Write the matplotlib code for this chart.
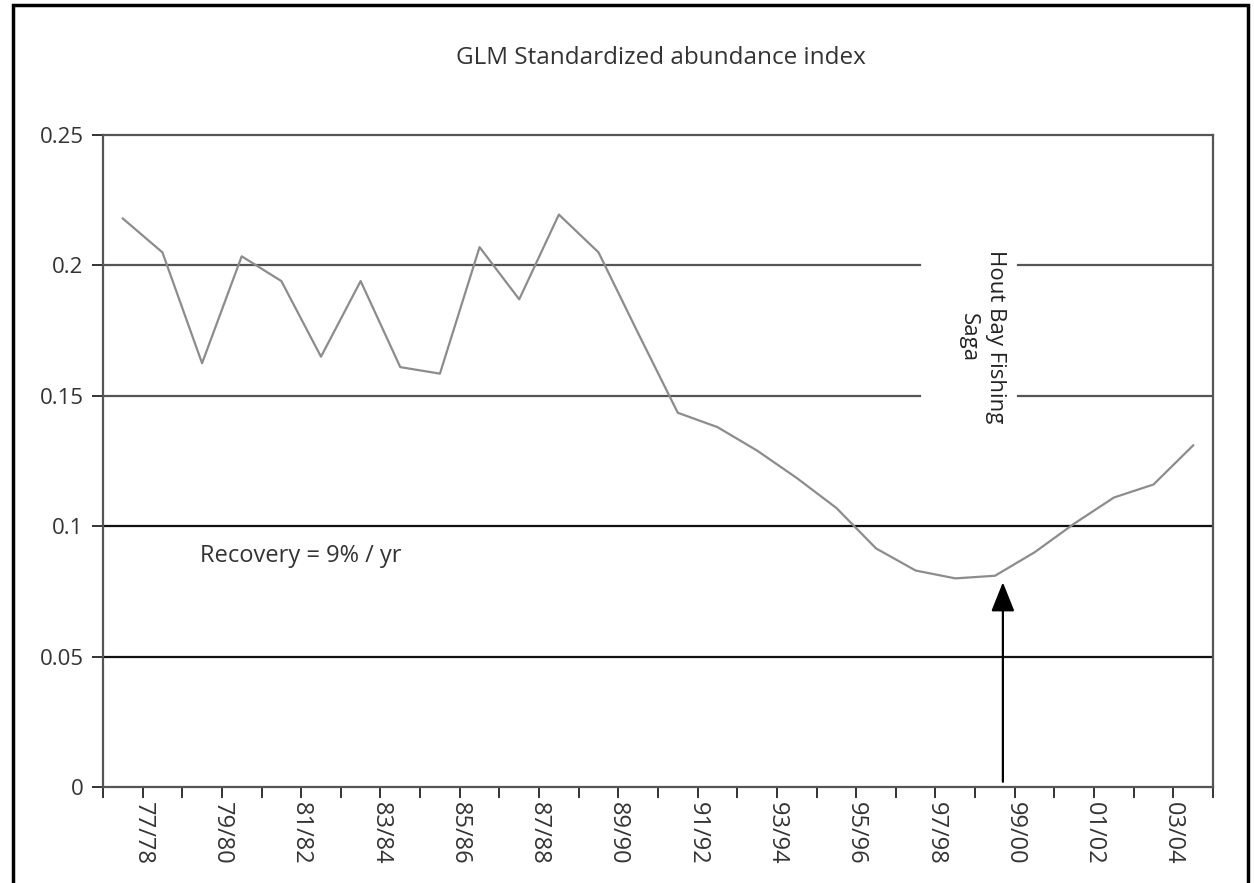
import numpy as np
import matplotlib
matplotlib.use("Agg")
import matplotlib.pyplot as plt
from matplotlib.patches import Rectangle

plt.rcParams['font.family'] = ['Open Sans', 'DejaVu Sans']

# season data, one point per year 1977 .. 2004
years = list(range(1977, 2005))
index_values = [0.218, 0.205, 0.1625, 0.2035, 0.194, 0.165, 0.194, 0.161, 0.1585, 0.207,
                0.187, 0.2195, 0.205, 0.174, 0.1435, 0.138, 0.129, 0.1185, 0.107, 0.0915,
                0.083, 0.080, 0.081, 0.090, 0.101, 0.111, 0.116, 0.131]
season_labels = ['77/78', '79/80', '81/82', '83/84', '85/86', '87/88', '89/90',
                 '91/92', '93/94', '95/96', '97/98', '99/00', '01/02', '03/04']
y_ticks = [0, 0.05, 0.1, 0.15, 0.2, 0.25]
y_tick_labels = ['0', '0.05', '0.1', '0.15', '0.2', '0.25']
arrow_x = 22.7
arrow_tip = 0.0785

fig = plt.figure(figsize=(12.54, 8.83), dpi=100)
ax = fig.add_axes([0.0821, 0.1087, 0.8852, 0.7384])

n = len(years)
x = np.arange(n) + 0.5

# horizontal lines, the upper two broken around the side note
gap_lo, gap_hi = 0.736, 0.824
for yv in [0.2, 0.15]:
    ax.axhline(yv, xmin=0, xmax=gap_lo, color='#555555', lw=1.6, zorder=1)
    ax.axhline(yv, xmin=gap_hi, xmax=1, color='#555555', lw=1.6, zorder=1)
for yv in [0.1, 0.05]:
    ax.axhline(yv, color='#111111', lw=1.6, zorder=1)

ax.plot(x, index_values, color='#8c8c8c', lw=1.6, zorder=3)

ax.annotate('', xy=(arrow_x, arrow_tip), xytext=(arrow_x, 0.002),
            arrowprops=dict(arrowstyle='-|>,head_length=1.0,head_width=0.4',
                            color='black', lw=1.6, mutation_scale=18,
                            shrinkA=0, shrinkB=0), zorder=4)

ax.set_xlim(0, n)
ax.set_ylim(0, 0.25)
ax.set_xticks(np.arange(0, n + 1))
xt = [''] * (n + 1)
for k, lab in enumerate(season_labels):
    xt[2 * k + 1] = lab
ax.set_xticklabels(xt, rotation=270, fontsize=17, color='#333333')
ax.set_yticks(y_ticks)
ax.set_yticklabels(y_tick_labels, fontsize=16, color='#333333')
ax.tick_params(axis='both', direction='out', length=8, width=1.4, color='#333333')
ax.tick_params(axis='x', pad=3)
ax.tick_params(axis='y', pad=6)

for s in ax.spines.values():
    s.set_color('#555555')
    s.set_linewidth(1.6)

ax.text(2.45, 0.0885, 'Recovery = 9% / yr', fontsize=17, color='#333333',
        ha='left', va='center')
ax.text(22.17, 0.1725, 'Hout Bay Fishing\nSaga', fontsize=16, color='#222222',
        rotation=270, ha='center', va='center', multialignment='center',
        linespacing=1.35)

fig.text(0.527, 0.934, 'GLM Standardized abundance index', fontsize=17.5,
         color='#333333', ha='center', va='center')

# outer frame round the whole picture
fig.patches.append(Rectangle((0.0104, -0.02), 0.9848, 1.0143, transform=fig.transFigure,
                             fill=False, edgecolor='black', lw=2.5))

fig.savefig('out.png', dpi=100)
